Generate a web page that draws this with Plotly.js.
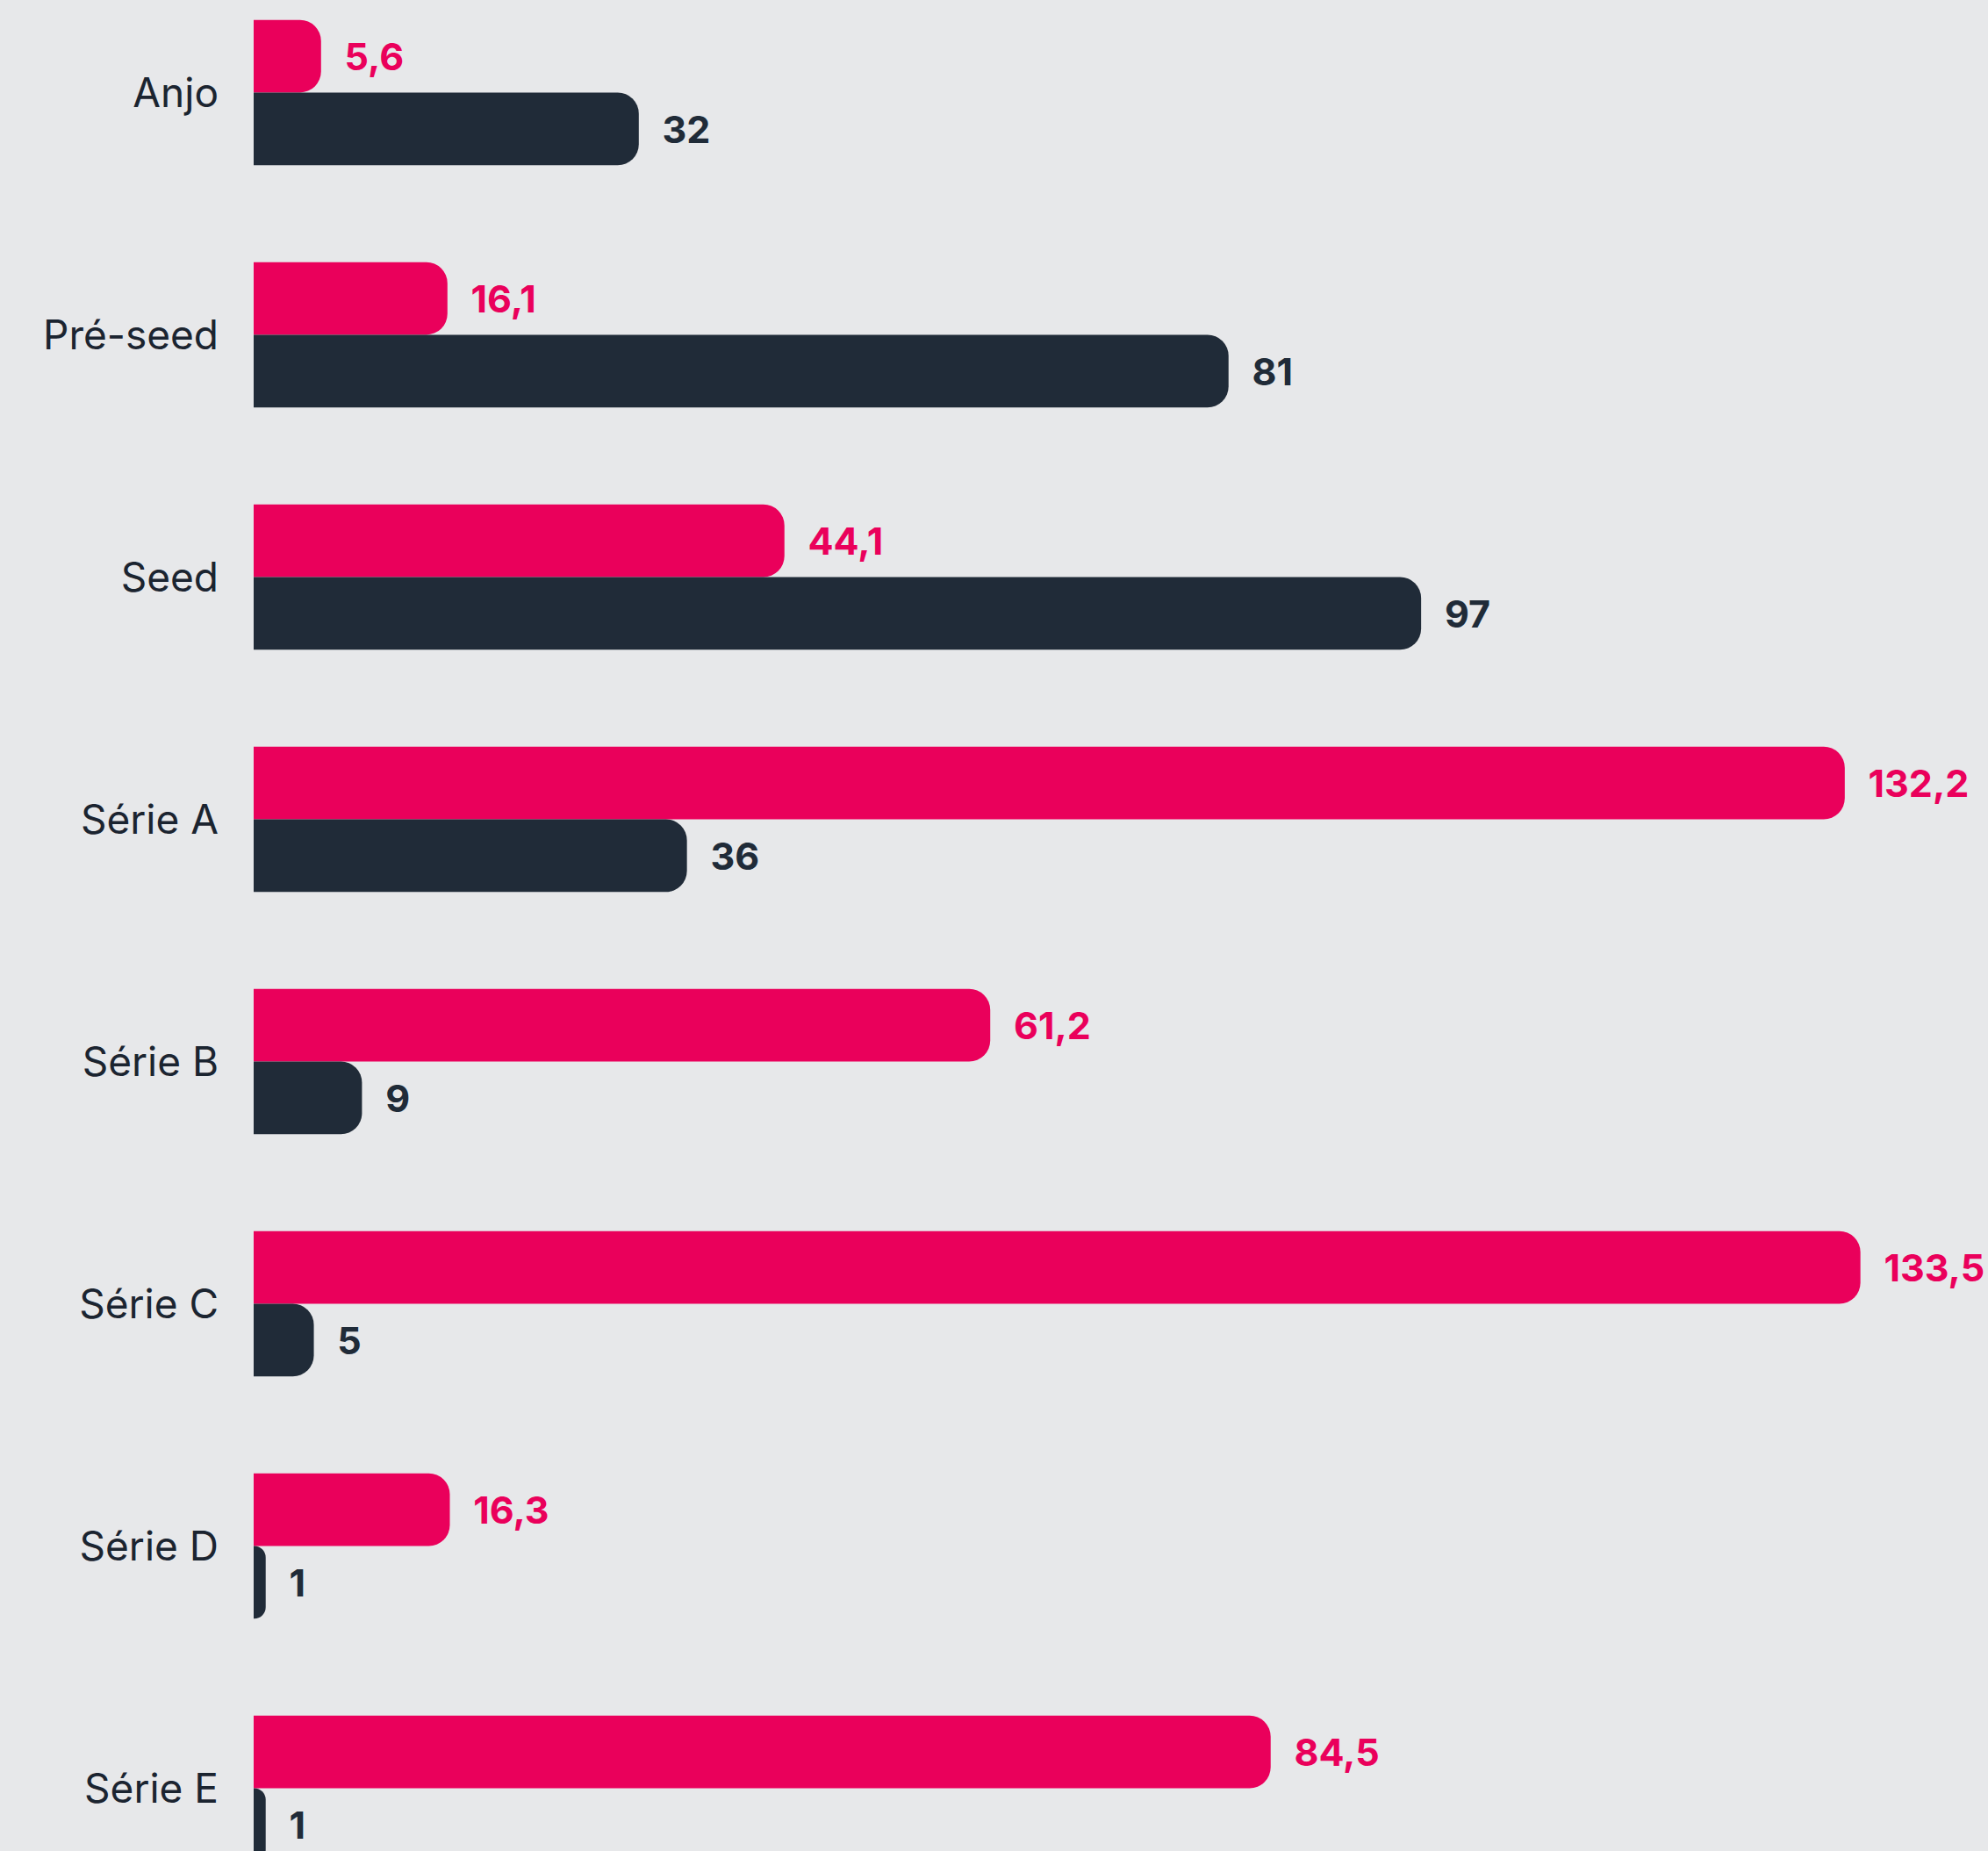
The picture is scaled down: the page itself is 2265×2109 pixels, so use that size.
<!DOCTYPE html>
<html>
<head>
<meta charset="utf-8">
<script src="https://cdn.plot.ly/plotly-3.0.1.min.js"></script>
<style>
  html, body { margin: 0; padding: 0; background: #E7E8EA; }
  #chart { width: 2265px; height: 2109px; }
</style>
</head>
<body>
<div id="chart"></div>
<script>
const categories = ['Anjo', 'Pré-seed', 'Seed', 'Série A', 'Série B', 'Série C', 'Série D', 'Série E'];
const seriesPink = [5.6, 16.1, 44.1, 132.2, 61.2, 133.5, 16.3, 84.5];
const seriesDark = [32, 81, 97, 36, 9, 5, 1, 1];

const PINK = '#EA005B';
const DARK = '#202B38';
const BG = '#E7E8EA';

function fmt(v) { return String(v).replace('.', ','); }

const common = {
  type: 'bar',
  orientation: 'h',
  y: categories,
  textposition: 'outside',
  cliponaxis: false,
  constraintext: 'none',
  hoverinfo: 'none'
};

const data = [
  Object.assign({}, common, {
    name: 'pink',
    x: seriesPink,
    text: seriesPink.map(fmt),
    texttemplate: '\u00a0\u00a0\u200a%{text}',
    marker: { color: PINK, cornerradius: 24 },
    textfont: { family: 'Inter, Lato, sans-serif', size: 43, color: PINK, weight: 700 }
  }),
  Object.assign({}, common, {
    name: 'dark',
    x: seriesDark,
    text: seriesDark.map(fmt),
    texttemplate: '\u00a0\u00a0\u200a%{text}',
    marker: { color: DARK, cornerradius: 24 },
    textfont: { family: 'Inter, Lato, sans-serif', size: 43, color: DARK, weight: 700 }
  })
];

const layout = {
  width: 2265,
  height: 2109,
  margin: { l: 289, r: 0, t: 0, b: 0, pad: 0 },
  paper_bgcolor: BG,
  plot_bgcolor: BG,
  showlegend: false,
  barmode: 'group',
  bargap: 0.4,
  bargroupgap: 0,
  xaxis: {
    range: [0, 144.1],
    visible: false,
    showgrid: false,
    zeroline: false,
    fixedrange: true
  },
  yaxis: {
    type: 'category',
    range: [7.259, -0.382],
    showgrid: false,
    zeroline: false,
    showline: false,
    ticks: '',
    ticklabelstandoff: 39,
    tickfont: { family: 'Inter, "Open Sans", sans-serif', size: 46, color: '#1B2430' },
    fixedrange: true
  }
};

Plotly.newPlot('chart', data, layout, { displayModeBar: false, staticPlot: true });
</script>
</body>
</html>
